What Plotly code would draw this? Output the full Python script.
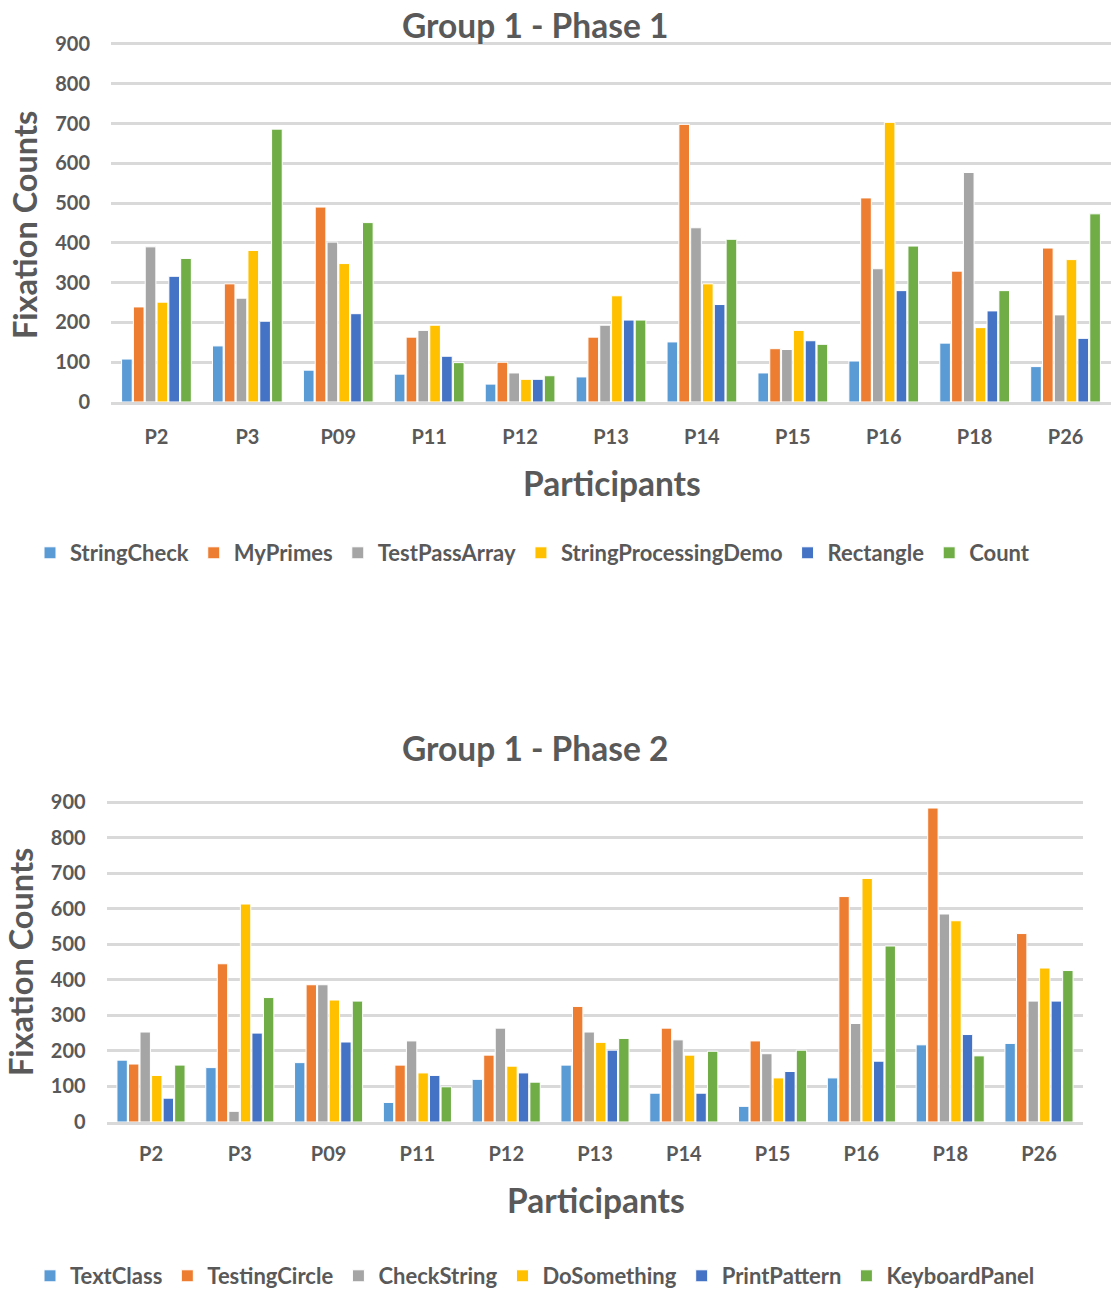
import plotly.graph_objects as go

participants = ["P2", "P3", "P09", "P11", "P12", "P13", "P14", "P15", "P16", "P18", "P26"]

# Group 1 - Phase 1
phase1_names = ["StringCheck", "MyPrimes", "TestPassArray", "StringProcessingDemo", "Rectangle", "Count"]
string_check = [108, 141, 80, 70, 45, 63, 151, 73, 103, 148, 89]
my_primes = [239, 297, 490, 163, 100, 163, 698, 134, 513, 329, 387]
test_pass_array = [390, 261, 402, 180, 73, 193, 438, 132, 335, 577, 219]
string_processing_demo = [251, 381, 348, 193, 57, 267, 297, 180, 703, 187, 358]
rectangle = [316, 203, 222, 115, 57, 206, 245, 154, 280, 229, 160]
count = [361, 686, 451, 99, 66, 206, 409, 145, 392, 280, 473]

# Group 1 - Phase 2
phase2_names = ["TextClass", "TestingCircle", "CheckString", "DoSomething", "PrintPattern", "KeyboardPanel"]
text_class = [174, 153, 167, 55, 120, 160, 81, 44, 124, 217, 221]
testing_circle = [163, 445, 386, 160, 188, 325, 264, 228, 634, 883, 530]
check_string = [253, 30, 386, 228, 264, 253, 231, 192, 277, 585, 340]
do_something = [131, 613, 343, 138, 157, 224, 188, 124, 685, 566, 433]
print_pattern = [67, 250, 225, 131, 138, 202, 81, 142, 171, 246, 340]
keyboard_panel = [160, 350, 340, 99, 112, 235, 199, 202, 495, 186, 426]

y_ticks = [0, 100, 200, 300, 400, 500, 600, 700, 800, 900]

colors = ["#5B9BD5", "#ED7D31", "#A5A5A5", "#FFC000", "#4472C4", "#70AD47"]
TXT = "#595959"
FONT = "Lato"
W, H = 1111, 1291

phase1 = [string_check, my_primes, test_pass_array, string_processing_demo, rectangle, count]
phase2 = [text_class, testing_circle, check_string, do_something, print_pattern, keyboard_panel]

fig = go.Figure()
for name, vals, c in zip(phase1_names, phase1, colors):
    fig.add_trace(go.Bar(x=participants, y=vals, name=name, marker=dict(color=c, line=dict(color="white", width=1)),
                         xaxis="x", yaxis="y", legend="legend"))
for name, vals, c in zip(phase2_names, phase2, colors):
    fig.add_trace(go.Bar(x=participants, y=vals, name=name, marker=dict(color=c, line=dict(color="white", width=1)),
                         xaxis="x2", yaxis="y2", legend="legend2"))

def py(px):
    return 1 - px / H

axis_common = dict(showgrid=True, gridcolor="#D9D9D9", gridwidth=2.5, zeroline=False, showline=False,
                   tickvals=y_ticks, range=[0, 903], ticks="outside", ticklen=16, tickcolor="rgba(0,0,0,0)",
                   tickfont=dict(family=FONT, size=20, color=TXT, weight="bold"))

def xaxis_style(ticklen):
    return dict(showgrid=False, zeroline=False, showline=True, linecolor="#D9D9D9", linewidth=2.5,
                ticks="outside", ticklen=ticklen, tickcolor="rgba(0,0,0,0)",
                tickfont=dict(family=FONT, size=20, color=TXT, weight="bold"))

legend_font = dict(family=FONT, size=22, color=TXT, weight="bold")

fig.update_layout(
    width=W, height=H, margin=dict(l=0, r=0, t=0, b=0, autoexpand=False),
    paper_bgcolor="white", plot_bgcolor="white",
    barmode="group", bargap=0.22, bargroupgap=0.1,
    xaxis=dict(domain=[111 / W, 1.0], anchor="y", **xaxis_style(15)),
    yaxis=dict(domain=[py(402), py(402 - 358 * 903 / 900)], anchor="x", **axis_common),
    xaxis2=dict(domain=[106.6 / W, 1083.4 / W], anchor="y2", **xaxis_style(12)),
    yaxis2=dict(domain=[py(1122), py(1122 - 320 * 903 / 900)], anchor="x2", **axis_common),
    legend=dict(orientation="h", x=30 / W, xanchor="left", y=py(553), yanchor="middle",
                font=legend_font, itemwidth=30, traceorder="normal"),
    legend2=dict(orientation="h", x=30 / W, xanchor="left", y=py(1276), yanchor="middle",
                 font=legend_font, itemwidth=30, traceorder="normal"),
    showlegend=True,
)

annos = [
    dict(text="Group 1 - Phase 1", x=535 / W, y=py(25), size=33.5),
    dict(text="Group 1 - Phase 2", x=535 / W, y=py(748), size=33.5),
    dict(text="Participants", x=612 / W, y=py(483), size=33.5),
    dict(text="Participants", x=596 / W, y=py(1200), size=33.5),
]
for a in annos:
    fig.add_annotation(text=a["text"], x=a["x"], y=a["y"], xref="paper", yref="paper",
                       xanchor="center", yanchor="middle", showarrow=False,
                       font=dict(family=FONT, size=a["size"], color=TXT, weight="bold"))
for yy, xx in [(225, 25), (962, 20)]:
    fig.add_annotation(text="Fixation Counts", x=xx / W, y=py(yy), xref="paper", yref="paper",
                       xanchor="center", yanchor="middle", showarrow=False, textangle=-90,
                       font=dict(family=FONT, size=32.5, color=TXT, weight="bold"))

fig.write_html("out.html")
